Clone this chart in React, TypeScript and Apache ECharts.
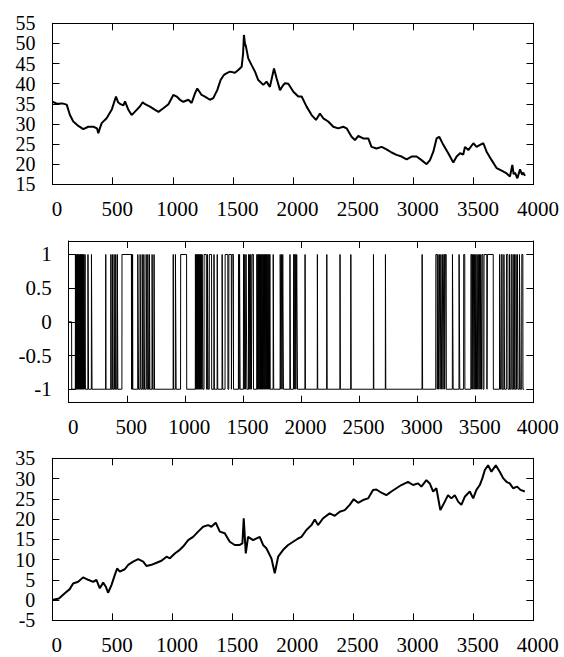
import React, { useEffect, useRef } from "react";
import * as echarts from "echarts";

// ---- Data ----
const xTicks = [0, 500, 1000, 1500, 2000, 2500, 3000, 3500, 4000];

// Top panel: price series (step, value)
const priceSteps = [0, 40, 80, 118, 145, 173, 215, 256, 298, 340, 370, 381, 395, 409, 450, 492, 528, 545, 561, 590, 603, 631, 658, 700, 728, 750, 770, 811, 853, 881, 922, 964, 1005, 1033, 1060, 1088, 1130, 1157, 1185, 1204, 1240, 1268, 1309, 1337, 1370, 1398, 1426, 1450, 1476, 1517, 1545, 1573, 1585, 1592, 1600, 1609, 1628, 1656, 1684, 1711, 1753, 1780, 1808, 1842, 1864, 1892, 1915, 1933, 1961, 2003, 2044, 2072, 2113, 2155, 2191, 2224, 2252, 2293, 2335, 2376, 2418, 2446, 2487, 2515, 2543, 2584, 2626, 2653, 2695, 2737, 2778, 2820, 2861, 2903, 2945, 2986, 3028, 3069, 3111, 3139, 3167, 3194, 3216, 3250, 3291, 3333, 3361, 3389, 3416, 3430, 3458, 3500, 3527, 3555, 3583, 3610, 3652, 3694, 3735, 3777, 3804, 3824, 3835, 3846, 3866, 3888, 3905, 3915, 3929];
const priceValues = [35.5, 35.0, 35.1, 34.8, 32.2, 30.6, 29.5, 28.7, 29.3, 29.3, 28.9, 27.7, 29.0, 30.2, 31.4, 33.5, 36.8, 35.4, 35.0, 34.6, 35.6, 33.5, 32.2, 33.5, 34.4, 35.4, 34.9, 34.3, 33.5, 33.0, 33.9, 34.9, 37.2, 36.8, 36.0, 35.5, 36.0, 35.2, 37.6, 38.8, 37.2, 36.8, 36.0, 36.4, 38.4, 40.9, 42.2, 42.6, 43.0, 42.7, 43.4, 44.2, 47.5, 52.1, 50.0, 49.2, 46.3, 44.6, 43.0, 40.9, 39.7, 40.5, 39.2, 43.8, 41.3, 38.4, 39.5, 40.1, 40.0, 38.0, 36.8, 36.8, 34.3, 32.2, 31.0, 32.6, 31.4, 30.6, 29.3, 28.9, 29.3, 28.9, 26.8, 26.0, 27.0, 26.4, 26.4, 24.3, 23.9, 24.3, 23.7, 22.9, 22.3, 21.9, 21.2, 21.9, 21.9, 21.0, 20.0, 21.0, 23.1, 26.4, 26.8, 24.8, 22.7, 20.4, 21.9, 22.7, 22.4, 24.3, 23.5, 25.2, 24.3, 24.8, 25.2, 23.1, 21.0, 19.0, 18.4, 17.7, 16.9, 19.8, 17.5, 17.9, 16.5, 18.7, 17.4, 17.9, 17.1];

// Middle panel: signal. 0 at the start, then -1 except inside these +1 intervals.
const signalZeroEnd = 25;
const signalEnd = 3920;
const longStarts = [57, 63, 68, 75, 80, 86, 90, 97, 102, 108, 113, 119, 124, 130, 140, 165, 195, 318, 362, 375, 390, 404, 418, 458, 543, 549, 594, 614, 632, 646, 666, 680, 694, 717, 734, 899, 918, 963, 1090, 1096, 1102, 1109, 1115, 1122, 1128, 1135, 1141, 1148, 1165, 1194, 1210, 1250, 1278, 1320, 1346, 1378, 1406, 1461, 1470, 1504, 1515, 1526, 1547, 1557, 1567, 1578, 1619, 1627, 1634, 1641, 1649, 1656, 1663, 1671, 1678, 1686, 1693, 1700, 1708, 1716, 1724, 1731, 1760, 1820, 1831, 1842, 1904, 1935, 1950, 1962, 2034, 2140, 2221, 2335, 2428, 2623, 2726, 3042, 3160, 3178, 3190, 3203, 3216, 3228, 3242, 3303, 3360, 3400, 3462, 3474, 3483, 3494, 3504, 3515, 3525, 3536, 3546, 3557, 3575, 3604, 3709, 3724, 3746, 3768, 3795, 3810, 3830, 3850, 3862, 3880, 3900];
const longEnds = [60, 66, 72, 77, 83, 88, 94, 99, 105, 110, 116, 121, 127, 134, 143, 170, 200, 320, 365, 379, 394, 408, 422, 540, 546, 551, 600, 620, 636, 652, 672, 686, 698, 722, 738, 902, 924, 1015, 1093, 1099, 1106, 1112, 1119, 1125, 1132, 1138, 1145, 1154, 1185, 1200, 1230, 1253, 1282, 1325, 1370, 1400, 1418, 1466, 1475, 1510, 1520, 1533, 1552, 1562, 1572, 1590, 1623, 1630, 1638, 1645, 1652, 1660, 1667, 1674, 1682, 1689, 1697, 1704, 1712, 1720, 1728, 1734, 1764, 1826, 1836, 1848, 1908, 1945, 1955, 1969, 2037, 2143, 2224, 2338, 2431, 2626, 2729, 3046, 3172, 3184, 3197, 3210, 3222, 3236, 3250, 3309, 3366, 3410, 3470, 3479, 3490, 3500, 3511, 3521, 3532, 3542, 3553, 3566, 3600, 3655, 3716, 3732, 3752, 3781, 3800, 3818, 3838, 3856, 3867, 3887, 3910];

// Bottom panel: cumulative return (step, value)
const retSteps = [0, 55, 104, 145, 173, 215, 256, 298, 340, 367, 395, 423, 445, 464, 492, 520, 539, 561, 603, 631, 672, 714, 756, 783, 825, 867, 908, 950, 978, 1019, 1060, 1088, 1130, 1171, 1213, 1254, 1296, 1323, 1359, 1393, 1434, 1476, 1517, 1559, 1581, 1592, 1609, 1628, 1670, 1725, 1753, 1780, 1822, 1850, 1878, 1920, 1961, 2003, 2044, 2072, 2113, 2155, 2183, 2210, 2252, 2307, 2349, 2390, 2432, 2473, 2507, 2543, 2584, 2626, 2667, 2695, 2737, 2778, 2820, 2861, 2903, 2958, 3000, 3042, 3069, 3111, 3139, 3167, 3194, 3227, 3264, 3291, 3319, 3347, 3375, 3402, 3430, 3472, 3500, 3527, 3555, 3577, 3597, 3624, 3652, 3688, 3721, 3749, 3777, 3804, 3832, 3866, 3893, 3929];
const retValues = [0.0, 0.4, 1.7, 2.7, 4.1, 4.5, 5.6, 5.0, 4.5, 5.0, 2.9, 4.3, 3.3, 1.8, 3.7, 6.2, 7.8, 7.0, 7.6, 8.7, 9.5, 10.1, 9.5, 8.4, 8.7, 9.2, 9.7, 10.7, 10.3, 11.5, 12.4, 13.2, 14.8, 15.6, 16.9, 18.1, 18.5, 18.1, 19.1, 16.9, 16.5, 14.4, 13.6, 13.6, 14.0, 20.2, 11.5, 15.6, 14.8, 15.6, 13.6, 12.8, 10.3, 6.6, 10.7, 12.4, 13.6, 14.4, 15.2, 15.6, 17.3, 18.5, 19.9, 18.5, 20.2, 21.4, 20.8, 21.8, 22.2, 23.5, 24.9, 24.0, 24.7, 25.1, 27.2, 27.3, 26.5, 25.9, 26.8, 27.6, 28.4, 29.2, 28.4, 28.8, 28.0, 29.6, 28.8, 26.8, 27.6, 22.2, 24.3, 25.9, 25.1, 25.9, 24.3, 23.5, 25.5, 26.8, 25.1, 27.2, 28.4, 30.1, 32.1, 33.3, 31.7, 33.3, 31.7, 30.1, 29.2, 28.8, 27.6, 28.0, 27.2, 26.8];

const topYTicks = [15, 20, 25, 30, 35, 40, 45, 50, 55];
const midYTicks = [-1, -0.5, 0, 0.5, 1];
const botYTicks = [-5, 0, 5, 10, 15, 20, 25, 30, 35];

const FONT = "'Liberation Serif', 'Times New Roman', Times, serif";

function zipPairs(xs: number[], ys: number[]) {
  return xs.map((x, i) => [x, ys[i]]);
}

function signalPoints() {
  const pts: number[][] = [[0, 0], [signalZeroEnd, 0], [signalZeroEnd + 1, -1]];
  for (let i = 0; i < longStarts.length; i++) {
    pts.push([longStarts[i], -1], [longStarts[i] + 1, 1], [longEnds[i], 1], [longEnds[i] + 1, -1]);
  }
  pts.push([signalEnd, -1]);
  return pts;
}

export default function App() {
  const ref = useRef<HTMLDivElement>(null);
  useEffect(() => {
    if (!ref.current) return;
    const chart = echarts.init(ref.current, undefined, { renderer: "svg" });

    const grids = [
      { left: 52.5, top: 23.3, width: 481, height: 161 },
      { left: 68.7, top: 241, width: 464.6, height: 161.7 },
      { left: 52.3, top: 458.3, width: 481, height: 162 },
    ].map((g) => ({ ...g, containLabel: false, outerBoundsMode: "none", show: false }));

    const tick = { show: true, inside: true, length: 7, lineStyle: { color: "#000", width: 1 } };
    const line = { show: true, onZero: false, lineStyle: { color: "#000", width: 1 } };
    const labelStyle = (size: number, lh: number) => ({
      color: "#000",
      fontFamily: FONT,
      fontSize: size,
      lineHeight: lh,
      formatter: (v: number) => String(v),
      showMinLabel: true,
      showMaxLabel: true,
      hideOverlap: false,
    });

    const xAxis: any[] = [];
    const yAxis: any[] = [];
    const yConf = [
      { min: 15, max: 55, interval: 5, ticks: topYTicks, size: 20 },
      { min: -1.2, max: 1.2, ticks: midYTicks, size: 21 },
      { min: -5, max: 35, interval: 5, ticks: botYTicks, size: 20 },
    ];
    const mainY: number[] = [];
    for (let g = 0; g < 3; g++) {
      const xBase = {
        type: "value",
        gridIndex: g,
        min: 0,
        max: 4000,
        interval: 500,
        splitLine: { show: false },
        axisLine: line,
        axisTick: { ...tick, customValues: xTicks },
      };
      xAxis.push({
        ...xBase,
        position: "bottom",
        axisLabel: { ...labelStyle(21, 21), margin: 14, padding: [0, 0, 0, 9], customValues: xTicks },
      });
      xAxis.push({ ...xBase, position: "top", axisLabel: { show: false } });

      const yc = yConf[g];
      const yBase: any = {
        type: "value",
        gridIndex: g,
        min: yc.min,
        max: yc.max,
        splitLine: { show: false },
      };
      if (yc.interval) yBase.interval = yc.interval;
      // alternate labels split over two co-located left axes so none get auto-hidden
      const evenTicks = yc.ticks.filter((_, i) => i % 2 === 0);
      const oddTicks = yc.ticks.filter((_, i) => i % 2 === 1);
      mainY.push(yAxis.length);
      yAxis.push({
        ...yBase,
        position: "left",
        axisLine: line,
        axisTick: { ...tick, customValues: yc.ticks },
        axisLabel: { ...labelStyle(yc.size, yc.size), margin: 17, customValues: evenTicks },
      });
      yAxis.push({
        ...yBase,
        position: "left",
        offset: 0,
        axisLine: { show: false },
        axisTick: { show: false },
        axisLabel: { ...labelStyle(yc.size, yc.size), margin: 17, customValues: oddTicks },
      });
      yAxis.push({
        ...yBase,
        position: "right",
        axisLine: line,
        axisTick: { ...tick, customValues: yc.ticks },
        axisLabel: { show: false },
      });
    }

    const lineSeries = (g: number, data: number[][], width: number) => ({
      type: "line",
      xAxisIndex: g * 2,
      yAxisIndex: mainY[g],
      data,
      showSymbol: false,
      symbol: "none",
      lineStyle: { color: "#000", width },
      silent: true,
    });

    chart.setOption({
      animation: false,
      backgroundColor: "#fff",
      grid: grids,
      xAxis,
      yAxis,
      series: [
        lineSeries(0, zipPairs(priceSteps, priceValues), 2),
        lineSeries(1, signalPoints(), 1),
        lineSeries(2, zipPairs(retSteps, retValues), 2),
      ],
    });
    return () => chart.dispose();
  }, []);
  return (
    <div
      ref={ref}
      style={{ position: "fixed", left: 0, top: 0, width: 564, height: 657, background: "#fff" }}
    />
  );
}
